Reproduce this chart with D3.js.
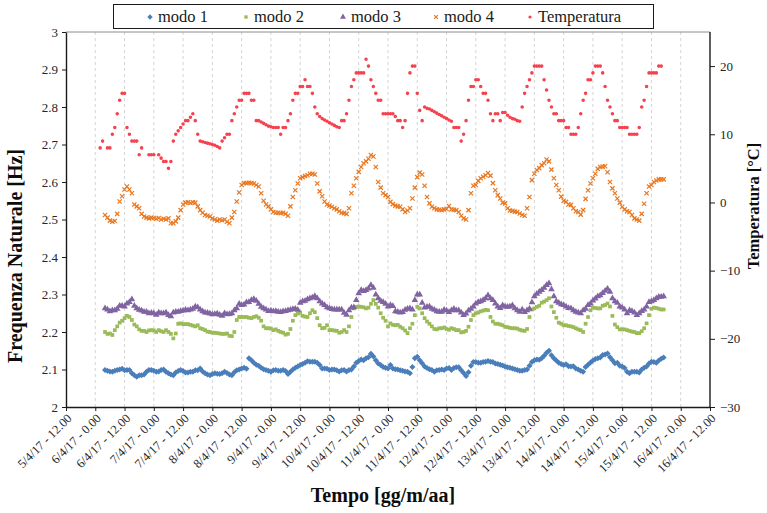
<!DOCTYPE html>
<html>
<head>
<meta charset="utf-8">
<script src="https://cdn.jsdelivr.net/npm/d3@7"></script>
<style>
  html, body { margin: 0; padding: 0; background: #fff; }
  svg { display: block; font-family: "Liberation Serif", "Times New Roman", serif; }
  svg text { font-family: "Liberation Serif", "Times New Roman", serif; }
</style>
</head>
<body>
<svg id="chart" width="767" height="513"></svg>
<script>
// Hourly samples; hour offsets are counted from 5/4/17 12:00.
const modiStartHour = 16;
const tempStartHour = 14;

// Natural frequencies [Hz]
const modo1 = [
  2.099,2.097,2.095,2.094,2.097,2.099,2.100,2.102,2.098,2.099,
  2.099,2.090,2.085,2.081,2.085,2.085,2.087,2.094,2.099,2.099,
  2.097,2.094,2.095,2.099,2.100,2.094,2.090,2.087,2.085,2.092,
  2.096,2.099,2.096,2.092,2.092,2.094,2.094,2.098,2.098,2.103,
  2.095,2.090,2.087,2.085,2.088,2.090,2.089,2.088,2.090,2.094,
  2.091,2.087,2.085,2.093,2.098,2.100,2.103,2.105,2.102,2.130,
  2.125,2.118,2.113,2.110,2.105,2.101,2.099,2.097,2.094,2.098,
  2.099,2.097,2.097,2.099,2.096,2.088,2.094,2.100,2.105,2.108,
  2.112,2.115,2.118,2.122,2.121,2.121,2.121,2.118,2.112,2.103,
  2.103,2.102,2.099,2.100,2.100,2.098,2.095,2.098,2.099,2.095,
  2.099,2.100,2.108,2.118,2.123,2.127,2.125,2.130,2.133,2.142,
  2.135,2.125,2.116,2.112,2.107,2.105,2.103,2.112,2.103,2.101,
  2.100,2.098,2.097,2.095,2.094,2.090,2.107,2.130,2.134,2.125,
  2.117,2.108,2.104,2.101,2.099,2.094,2.098,2.099,2.100,2.099,
  2.103,2.104,2.099,2.104,2.106,2.106,2.098,2.091,2.083,2.093,
  2.110,2.120,2.120,2.118,2.118,2.120,2.121,2.123,2.121,2.120,
  2.116,2.115,2.113,2.111,2.108,2.106,2.105,2.103,2.101,2.099,
  2.097,2.097,2.099,2.100,2.110,2.120,2.125,2.127,2.126,2.130,
  2.137,2.145,2.150,2.138,2.130,2.124,2.118,2.115,2.112,2.114,
  2.109,2.108,2.109,2.103,2.100,2.097,2.094,2.107,2.113,2.119,
  2.124,2.128,2.130,2.132,2.139,2.140,2.143,2.133,2.125,2.117,
  2.118,2.110,2.108,2.104,2.094,2.090,2.094,2.094,2.094,2.092,
  2.100,2.105,2.108,2.116,2.121,2.120,2.118,2.124,2.129,2.132
];
const modo2 = [
  2.200,2.195,2.196,2.192,2.205,2.215,2.225,2.230,2.237,2.243,
  2.240,2.232,2.220,2.215,2.207,2.203,2.203,2.200,2.204,2.205,
  2.204,2.200,2.205,2.202,2.200,2.205,2.200,2.195,2.183,2.196,
  2.222,2.223,2.221,2.221,2.221,2.219,2.217,2.215,2.218,2.210,
  2.208,2.205,2.201,2.200,2.198,2.198,2.197,2.196,2.195,2.195,
  2.196,2.190,2.189,2.200,2.232,2.240,2.240,2.240,2.240,2.238,
  2.237,2.240,2.242,2.238,2.230,2.215,2.210,2.210,2.209,2.205,
  2.207,2.203,2.200,2.198,2.193,2.195,2.208,2.230,2.245,2.249,
  2.252,2.243,2.241,2.240,2.250,2.258,2.253,2.237,2.218,2.210,
  2.211,2.218,2.205,2.205,2.204,2.203,2.198,2.200,2.205,2.200,
  2.215,2.240,2.263,2.267,2.268,2.267,2.266,2.263,2.265,2.275,
  2.285,2.275,2.265,2.250,2.238,2.230,2.215,2.223,2.219,2.218,
  2.219,2.214,2.210,2.204,2.197,2.210,2.222,2.245,2.267,2.263,
  2.250,2.237,2.228,2.222,2.215,2.208,2.207,2.210,2.210,2.212,
  2.208,2.206,2.210,2.208,2.205,2.205,2.199,2.200,2.203,2.214,
  2.232,2.245,2.250,2.252,2.255,2.257,2.259,2.258,2.240,2.228,
  2.222,2.222,2.220,2.218,2.214,2.213,2.211,2.210,2.210,2.209,
  2.206,2.204,2.203,2.208,2.240,2.260,2.263,2.267,2.270,2.278,
  2.281,2.285,2.290,2.268,2.253,2.238,2.225,2.222,2.218,2.218,
  2.216,2.215,2.213,2.210,2.207,2.205,2.200,2.222,2.240,2.258,
  2.265,2.264,2.263,2.263,2.270,2.272,2.276,2.268,2.243,2.220,
  2.213,2.207,2.207,2.207,2.205,2.203,2.201,2.200,2.197,2.197,
  2.202,2.210,2.223,2.245,2.262,2.265,2.264,2.262,2.260,2.260
];
const modo3 = [
  2.263,2.260,2.255,2.258,2.258,2.262,2.270,2.270,2.268,2.276,
  2.280,2.287,2.270,2.263,2.259,2.257,2.254,2.254,2.250,2.251,
  2.250,2.246,2.252,2.250,2.250,2.252,2.245,2.242,2.252,2.254,
  2.254,2.256,2.257,2.259,2.258,2.260,2.262,2.268,2.266,2.260,
  2.255,2.252,2.251,2.249,2.247,2.248,2.249,2.246,2.243,2.250,
  2.247,2.248,2.250,2.258,2.263,2.275,2.272,2.273,2.279,2.280,
  2.285,2.288,2.283,2.275,2.267,2.263,2.260,2.256,2.257,2.255,
  2.256,2.254,2.253,2.255,2.256,2.258,2.259,2.261,2.262,2.259,
  2.278,2.282,2.283,2.287,2.290,2.292,2.296,2.290,2.282,2.276,
  2.272,2.266,2.263,2.261,2.260,2.260,2.260,2.260,2.251,2.246,
  2.258,2.265,2.266,2.285,2.303,2.312,2.309,2.312,2.316,2.325,
  2.318,2.300,2.290,2.283,2.280,2.275,2.268,2.272,2.269,2.255,
  2.254,2.252,2.253,2.259,2.262,2.263,2.260,2.285,2.300,2.300,
  2.278,2.265,2.267,2.268,2.262,2.259,2.255,2.254,2.254,2.259,
  2.257,2.253,2.258,2.262,2.258,2.258,2.252,2.245,2.249,2.257,
  2.262,2.268,2.276,2.280,2.282,2.285,2.290,2.298,2.290,2.285,
  2.276,2.268,2.264,2.271,2.268,2.267,2.268,2.271,2.263,2.258,
  2.254,2.260,2.253,2.258,2.262,2.279,2.295,2.302,2.307,2.312,
  2.318,2.325,2.330,2.314,2.295,2.282,2.278,2.274,2.272,2.268,
  2.264,2.263,2.258,2.254,2.252,2.250,2.258,2.262,2.272,2.276,
  2.284,2.289,2.295,2.298,2.304,2.310,2.315,2.307,2.290,2.282,
  2.278,2.268,2.265,2.260,2.250,2.258,2.256,2.252,2.245,2.250,
  2.256,2.260,2.268,2.280,2.282,2.285,2.290,2.294,2.294,2.295
];
const modo4 = [
  2.512,2.505,2.497,2.494,2.496,2.515,2.548,2.562,2.580,2.588,
  2.580,2.570,2.540,2.535,2.530,2.515,2.508,2.505,2.503,2.505,
  2.504,2.502,2.504,2.500,2.502,2.500,2.503,2.490,2.490,2.495,
  2.505,2.525,2.540,2.545,2.546,2.544,2.546,2.545,2.535,2.525,
  2.518,2.512,2.510,2.508,2.503,2.500,2.497,2.500,2.498,2.500,
  2.494,2.490,2.505,2.520,2.548,2.572,2.592,2.597,2.597,2.598,
  2.597,2.596,2.592,2.588,2.570,2.550,2.540,2.535,2.527,2.520,
  2.518,2.518,2.517,2.518,2.515,2.510,2.535,2.560,2.578,2.596,
  2.610,2.613,2.616,2.618,2.622,2.622,2.620,2.596,2.575,2.562,
  2.548,2.540,2.537,2.534,2.530,2.527,2.522,2.518,2.517,2.515,
  2.530,2.570,2.590,2.610,2.627,2.640,2.650,2.655,2.662,2.672,
  2.668,2.640,2.600,2.585,2.570,2.565,2.560,2.547,2.541,2.537,
  2.535,2.534,2.527,2.520,2.524,2.530,2.556,2.585,2.613,2.625,
  2.620,2.590,2.560,2.543,2.534,2.530,2.527,2.526,2.525,2.527,
  2.528,2.536,2.527,2.526,2.525,2.520,2.510,2.503,2.500,2.525,
  2.570,2.590,2.592,2.603,2.610,2.614,2.618,2.624,2.617,2.597,
  2.578,2.565,2.556,2.545,2.543,2.530,2.524,2.523,2.521,2.520,
  2.516,2.512,2.510,2.530,2.560,2.605,2.622,2.632,2.637,2.645,
  2.650,2.660,2.655,2.633,2.610,2.592,2.578,2.561,2.550,2.547,
  2.540,2.539,2.530,2.522,2.520,2.513,2.525,2.555,2.578,2.596,
  2.610,2.622,2.635,2.640,2.641,2.642,2.626,2.600,2.583,2.570,
  2.556,2.545,2.534,2.527,2.522,2.520,2.512,2.503,2.500,2.497,
  2.515,2.542,2.570,2.588,2.592,2.600,2.604,2.607,2.607,2.607
];

// Air temperature [°C]; null where no reading was logged
const temperatura = [
  8,9,null,8,8,10,11,13,15,16,
  16,11,10,9,9,9,7,8,null,null,
  7,7,7,null,7,6.5,6,6,5,6,
  9,10,10.5,11,11.5,12,12,12.5,13,12,
  10,9,8.9,8.8,8.7,8.6,8.5,8.4,8.2,8,
  9,9.5,10,10,12,13,14,15,15,16,
  16,16,15,15,12,12,11.8,11.6,11.4,11.2,
  11.1,11,11,11,10,11,11,12,13,15,
  16,16,17,17,18,17,17,16,14,13,
  12.6,12.3,12.1,11.9,11.7,11.5,11.3,11.1,11,12,
  12,13,15,17,18,19,19,19,19,21,
  20,18,17,16,15,15,13,13,13,13,
  13,12.6,12,12,11,12,16,19,20,20,
  16,13.5,12,14,13.8,13.7,13.5,13.3,13.1,12.9,
  12.7,12.5,12.3,12.1,11.9,11,11,11,9,10,
  12,15,17,17,18,18,17,16,16,15,
  13,12,13,13,12,13.2,13.2,12.8,12.5,12.3,
  12.2,12,11.9,14,16,17,18,19,20,20,
  20,20,18,16.5,15,14,13,13,12,12,
  12,11,11,10,10,10,11,13,15,16,
  18,18,19,20,20,20,19,17,15,14,
  13,12,12,11,11,11,11,10,10,10,
  10,11,14,15,17,19,19,19,19,20,20
];

const seriesNames = ["modo 1", "modo 2", "modo 3", "modo 4", "Temperatura"];

const tickLabels = [
  "5/4/17 - 12.00", "6/4/17 - 0.00", "6/4/17 - 12.00", "7/4/17 - 0.00",
  "7/4/17 - 12.00", "8/4/17 - 0.00", "8/4/17 - 12.00", "9/4/17 - 0.00",
  "9/4/17 - 12.00", "10/4/17 - 0.00", "10/4/17 - 12.00", "11/4/17 - 0.00",
  "11/4/17 - 12.00", "12/4/17 - 0.00", "12/4/17 - 12.00", "13/4/17 - 0.00",
  "13/4/17 - 12.00", "14/4/17 - 0.00", "14/4/17 - 12.00", "15/4/17 - 0.00",
  "15/4/17 - 12.00", "16/4/17 - 0.00", "16/4/17 - 12.00"
];
const freqTicks = [2, 2.1, 2.2, 2.3, 2.4, 2.5, 2.6, 2.7, 2.8, 2.9, 3];
const tempTicks = [-30, -20, -10, 0, 10, 20];

// ---------------------------------------------------------------------------
const HOUR = 3600e3;
const t0 = Date.UTC(2017, 3, 5, 12);
const tickDates = tickLabels.map((_, i) => new Date(t0 + i * 12 * HOUR));
const SERIF = "'Liberation Serif','Times New Roman',serif";

const plot = { left: 66, right: 710, top: 32, bottom: 407 };

const x = d3.scaleUtc()
  .domain([tickDates[0], tickDates[tickDates.length - 1]])
  .range([plot.left, plot.right]);
const yF = d3.scaleLinear().domain([2, 3]).range([plot.bottom, plot.top]);
const yT = d3.scaleLinear().domain([-30, 25]).range([plot.bottom, plot.top]);

const svg = d3.select("#chart");

// marker shapes
const diamond = { draw(ctx, size) { const h = Math.sqrt(size / 2);
  ctx.moveTo(0, -h); ctx.lineTo(h, 0); ctx.lineTo(0, h); ctx.lineTo(-h, 0); ctx.closePath(); } };
const cross = { draw(ctx, size) { const r = Math.sqrt(size) / 2;
  ctx.moveTo(-r, -r); ctx.lineTo(r, r); ctx.moveTo(r, -r); ctx.lineTo(-r, r); } };

const styles = [
  { color: "#4a7ebb", type: diamond, size: 18, stroke: false },
  { color: "#9bbb59", type: d3.symbolSquare, size: 14, stroke: false },
  { color: "#8064a2", type: d3.symbolTriangle, size: 19, stroke: false },
  { color: "#e9771f", type: cross, size: 18, stroke: true },
  { color: "#f5424e", type: d3.symbolCircle, size: 10, stroke: false }
];

// vertical dashed gridlines
svg.append("g")
  .selectAll("line")
  .data(tickDates.slice(1, -1))
  .join("line")
  .attr("x1", d => x(d)).attr("x2", d => x(d))
  .attr("y1", plot.top).attr("y2", plot.bottom)
  .attr("stroke", "#d4d4d4")
  .attr("stroke-width", 1)
  .attr("stroke-dasharray", "3,3");

// top frame
svg.append("line")
  .attr("x1", plot.left).attr("x2", plot.right)
  .attr("y1", plot.top).attr("y2", plot.top)
  .attr("stroke", "#8c8c8c").attr("stroke-width", 1);

// data points
function toPoints(values, startHour, scale) {
  return values.map((v, i) => ({ t: new Date(t0 + (startHour + i) * HOUR), v }))
    .filter(d => d.v !== null)
    .map(d => [x(d.t), scale(d.v)]);
}
const allSeries = [
  toPoints(modo1, modiStartHour, yF),
  toPoints(modo2, modiStartHour, yF),
  toPoints(modo3, modiStartHour, yF),
  toPoints(modo4, modiStartHour, yF),
  toPoints(temperatura, tempStartHour, yT)
];

allSeries.forEach((pts, si) => {
  const st = styles[si];
  const sym = d3.symbol().type(st.type).size(st.size);
  svg.append("g")
    .selectAll("path")
    .data(pts)
    .join("path")
    .attr("transform", d => `translate(${d[0]},${d[1]})`)
    .attr("d", sym)
    .attr("fill", st.stroke ? "none" : st.color)
    .attr("stroke", st.stroke ? st.color : "none")
    .attr("stroke-width", st.stroke ? 1.2 : 0);
});

// left axis (frequency)
const axL = svg.append("g")
  .attr("transform", `translate(${plot.left},0)`)
  .call(d3.axisLeft(yF).tickValues(freqTicks).tickSize(4).tickSizeOuter(0).tickPadding(4)
    .tickFormat(d => String(+d.toFixed(1))));
// right axis (temperature)
const axR = svg.append("g")
  .attr("transform", `translate(${plot.right},0)`)
  .call(d3.axisRight(yT).tickValues(tempTicks).tickSize(5).tickSizeOuter(0).tickPadding(5)
    .tickFormat(d3.format("d")));
axR.select(".domain").attr("d", `M0,${plot.top}V${plot.bottom}`);
// bottom axis (time)
const axB = svg.append("g")
  .attr("transform", `translate(0,${plot.bottom})`)
  .call(d3.axisBottom(x).tickValues(tickDates).tickSize(4).tickSizeOuter(0)
    .tickFormat((d, i) => tickLabels[i]));

[axL, axR, axB].forEach(g => {
  g.attr("font-family", SERIF).attr("font-size", null);
  g.select(".domain").attr("stroke", "#1a1a1a").attr("stroke-width", 1.4);
  g.selectAll(".tick line").attr("stroke", "#1a1a1a").attr("stroke-width", 1);
  g.selectAll(".tick text").attr("fill", "#262626").attr("font-family", SERIF);
});
axL.selectAll(".tick text").attr("font-size", 13);
axR.selectAll(".tick text").attr("font-size", 13);
axB.selectAll(".tick text")
  .attr("font-size", 12.5)
  .attr("text-anchor", "end")
  .attr("dy", null)
  .attr("y", null)
  .attr("transform", "translate(6,12) rotate(-45)");

// axis titles
svg.append("text")
  .attr("transform", "translate(22,256) rotate(-90)")
  .attr("text-anchor", "middle")
  .attr("font-size", 20).attr("font-weight", "bold")
  .attr("fill", "#0d0d0d")
  .text("Frequenza Naturale [Hz]");
svg.append("text")
  .attr("transform", "translate(759,206) rotate(-90)")
  .attr("text-anchor", "middle")
  .attr("font-size", 16.5).attr("font-weight", "bold")
  .attr("fill", "#0d0d0d")
  .text("Temperatura [°C]");
svg.append("text")
  .attr("x", 383).attr("y", 502)
  .attr("text-anchor", "middle")
  .attr("font-size", 20).attr("font-weight", "bold")
  .attr("fill", "#0d0d0d")
  .text("Tempo [gg/m/aa]");

// legend
const legend = svg.append("g");
legend.append("rect")
  .attr("x", 113.5).attr("y", 4.5).attr("width", 540).attr("height", 24)
  .attr("fill", "#fff").attr("stroke", "#1a1a1a").attr("stroke-width", 1);
const legendX = [150, 246, 343, 436, 530];
seriesNames.forEach((name, i) => {
  const st = styles[i];
  legend.append("path")
    .attr("transform", `translate(${legendX[i]},17)`)
    .attr("d", d3.symbol().type(st.type).size(st.size * 0.8)())
    .attr("fill", st.stroke ? "none" : st.color)
    .attr("stroke", st.stroke ? st.color : "none")
    .attr("stroke-width", st.stroke ? 1.2 : 0);
  legend.append("text")
    .attr("x", legendX[i] + 8).attr("y", 22)
    .attr("font-size", 16.5)
    .attr("fill", "#1a1a1a")
    .text(name);
});
</script>
</body>
</html>
